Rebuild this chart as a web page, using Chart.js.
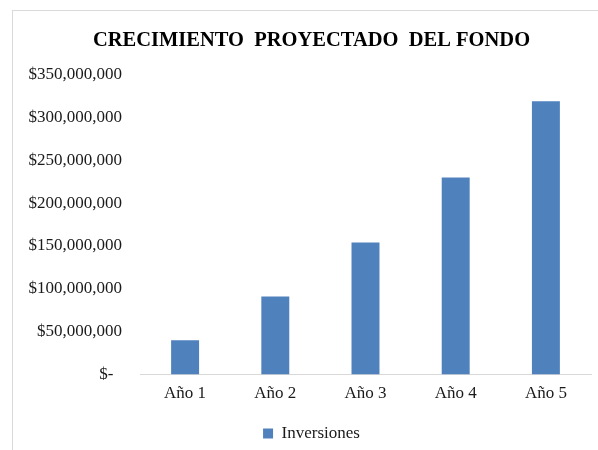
<!DOCTYPE html>
<html lang="es">
<head>
  <meta charset="UTF-8" />
  <title>Crecimiento proyectado del fondo</title>
  <script src="https://cdn.jsdelivr.net/npm/chart.js"></script>
  <style>
    html, body { margin: 0; padding: 0; background: #fff; overflow: hidden; width: 598px; height: 450px; }
    .marco { position: absolute; left: 12px; top: 10px; width: 620px; height: 470px; border: 1px solid #d9d9d9; box-sizing: border-box; }
    .lienzo { position: absolute; left: 0; top: 0; width: 623px; height: 470px; }
  </style>
</head>
<body>
  <div class="marco"></div>
  <div class="lienzo"><canvas id="grafico" width="623" height="470"></canvas></div>

  <script>
    const titulo = 'CRECIMIENTO  PROYECTADO  DEL FONDO';
    const anios = ['Año 1', 'Año 2', 'Año 3', 'Año 4', 'Año 5'];
    const serieNombre = 'Inversiones';
    const inversiones = [40000000, 91000000, 154000000, 230000000, 319000000];
    const ejeMax = 350000000;
    const ejePaso = 50000000;

    const fuente = "'Liberation Serif', 'Times New Roman', serif";

    function formatoDinero(v) {
      if (v === 0) return '$-  ';
      return '$' + v.toLocaleString('en-US');
    }

    const grafico = new Chart(document.getElementById('grafico').getContext('2d'), {
      type: 'bar',
      data: {
        labels: anios,
        datasets: [{
          label: serieNombre,
          data: inversiones,
          backgroundColor: '#4f81bd',
          barPercentage: 0.31,
          categoryPercentage: 1
        }]
      },
      options: {
        responsive: false,
        animation: false,
        layout: { padding: { left: 0, right: 0, top: 0, bottom: 18 } },
        plugins: {
          title: {
            display: true,
            text: titulo,
            color: '#000',
            font: { family: fuente, size: 20.5, weight: 'bold' },
            padding: { top: 28, bottom: 22 }
          },
          legend: {
            position: 'bottom',
            labels: {
              color: '#1a1a1a',
              font: { family: fuente, size: 17 },
              boxWidth: 10,
              boxHeight: 10,
              padding: 12
            }
          },
          tooltip: { enabled: false }
        },
        scales: {
          x: {
            grid: { display: false, drawTicks: false },
            border: { display: true, color: '#d9d9d9' },
            ticks: { color: '#1a1a1a', font: { family: fuente, size: 17 }, padding: 9 }
          },
          y: {
            min: 0,
            max: ejeMax,
            afterFit: (s) => { s.width = 140; },
            grid: { display: false, drawTicks: false },
            border: { display: false },
            ticks: {
              stepSize: ejePaso,
              color: '#1a1a1a',
              padding: 18,
              font: { family: fuente, size: 17 },
              callback: (v) => formatoDinero(v)
            }
          },
          // margen derecho del área de trazado
          derecha: {
            position: 'right',
            afterFit: (s) => { s.width = 32; },
            grid: { display: false, drawTicks: false },
            border: { display: false },
            ticks: { display: false }
          }
        }
      }
    });
  </script>
</body>
</html>
